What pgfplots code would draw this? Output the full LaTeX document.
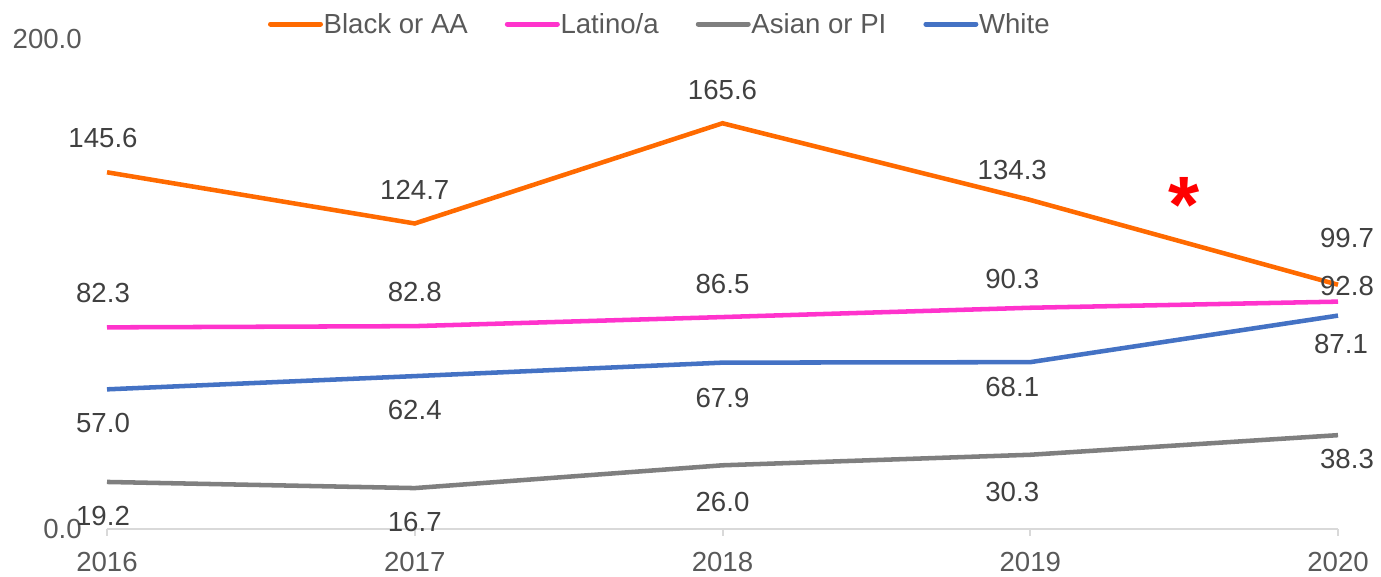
\documentclass[border=0pt]{standalone}
\usepackage{fontspec}
\setmainfont{Liberation Sans}
\usepackage{pgfplots}
\usepackage{pgfplotstable}
\pgfplotsset{compat=1.18}
\definecolor{cBlack}{HTML}{FF6A00}
\definecolor{cLat}{HTML}{FF33CC}
\definecolor{cAsian}{HTML}{7F7F7F}
\definecolor{cWhite}{HTML}{4472C4}
\definecolor{tickgray}{HTML}{595959}
\definecolor{labgray}{HTML}{404040}
\definecolor{axgray}{HTML}{D9D9D9}

\pgfplotstableread{
x y lab dx dy
2016 145.6 145.6 -3 25.5
2017 124.7 124.7 0 25.5
2018 165.6 165.6 0 24.75
2019 134.3 134.3 -13.5 22.5
2020 99.7 99.7 6.75 34.8
}\tblack
\pgfplotstableread{
x y lab dx dy
2016 82.3 82.3 -3 25.5
2017 82.8 82.8 0 25.5
2018 86.5 86.5 0 24.75
2019 90.3 90.3 -13.5 21.75
2020 92.8 92.8 6.75 11.5
}\tlat
\pgfplotstableread{
x y lab dx dy
2016 19.2 19.2 -3 -25.5
2017 16.7 16.7 0 -25.5
2018 26.0 26.0 0 -27.75
2019 30.3 30.3 -13.5 -27.75
2020 38.3 38.3 6.75 -18
}\tasian
\pgfplotstableread{
x y lab dx dy
2016 57.0 57.0 -3 -25.5
2017 62.4 62.4 0 -25.5
2018 67.9 67.9 0 -26.25
2019 68.1 68.1 -13.5 -18.75
2020 87.1 87.1 2.25 -21.5
}\twhite

\begin{document}
\begin{tikzpicture}
\path[use as bounding box] (-80.25pt,-36pt) rectangle (955.5pt,396.75pt);
\begin{axis}[
  at={(0pt,0pt)}, anchor=south west,
  scale only axis, width=923.25pt, height=367.5pt,
  xmin=2016, xmax=2020, ymin=0, ymax=200,
  clip=false,
  axis x line*=bottom, axis y line*=left,
  y axis line style={draw=none},
  x axis line style={draw=axgray, line width=1.5pt},
  xtick={2016,2017,2018,2019,2020},
  xticklabels={2016,2017,2018,2019,2020},
  ytick={0,200},
  yticklabels={0.0,200.0},
  tick align=outside,
  major tick length=5.25pt,
  xtick style={draw=axgray, line width=1.5pt},
  ytick style={draw=none},
  tick label style={font=\fontsize{20.7}{24}\selectfont, text=tickgray},
  xticklabel style={anchor=north, inner sep=0pt, yshift=-12pt},
  yticklabel style={anchor=east, inner sep=0pt, xshift=-13.5pt},
  legend columns=4,
  legend cell align=left,
  legend style={at={(0.1308,1.0306)}, anchor=west, draw=none, fill=none,
    inner sep=0pt, outer sep=0pt,
    font=\fontsize{20.7}{24}\selectfont, text=tickgray,
    nodes={inner sep=0pt},
    /tikz/every odd column/.append style={column sep=0.5pt},
    /tikz/every even column/.append style={column sep=27.75pt}},
  legend image code/.code={\draw[#1, line width=3.75pt, line cap=round] (0pt,0pt) -- (37.5pt,0pt);},
  every axis plot/.append style={line width=3.4pt, no markers},
  point meta=explicit symbolic,
  nodes near coords,
  nodes near coords align={anchor=center},
  visualization depends on={\thisrow{dx} \as \dx},
  visualization depends on={\thisrow{dy} \as \dy},
  every node near coord/.append style={anchor=center, xshift=\dx pt, yshift=\dy pt,
     font=\fontsize{20.7}{24}\selectfont, text=labgray},
]
\addplot[cBlack] table[x=x, y=y, meta=lab] {\tblack};
\addlegendentry{Black or AA}
\addplot[cLat] table[x=x, y=y, meta=lab] {\tlat};
\addlegendentry{Latino/a}
\addplot[cAsian] table[x=x, y=y, meta=lab] {\tasian};
\addlegendentry{Asian or PI}
\addplot[cWhite] table[x=x, y=y, meta=lab] {\twhite};
\addlegendentry{White}
\node[text=red, inner sep=0pt, anchor=north, font=\fontsize{60}{66}\selectfont\bfseries] at (axis cs:2019.5,143.6) {*};
\end{axis}
\end{tikzpicture}
\end{document}
